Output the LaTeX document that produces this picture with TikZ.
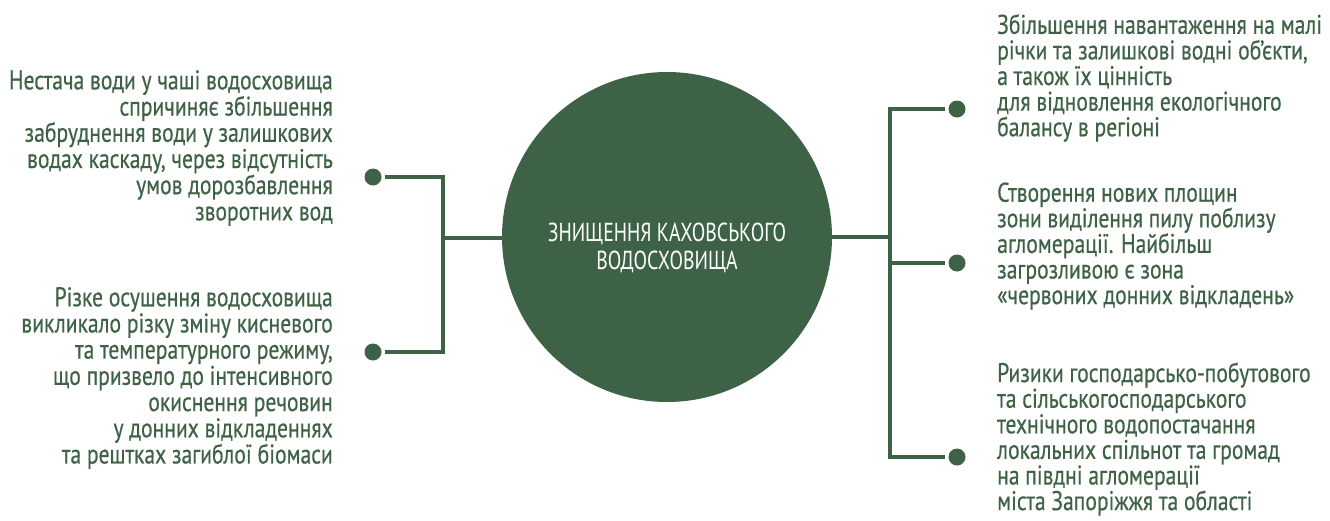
\documentclass[tikz,border=0pt]{standalone}
\usepackage{fontspec}
\setmainfont{PT Sans}[FakeStretch=0.8,FakeBold=0.5]
\newfontfamily\circfont{PT Sans}[FakeStretch=0.76]
\definecolor{dgreen}{HTML}{3E6245}
\begin{document}
\begin{tikzpicture}[x=1pt,y=-1pt,
  conn/.style={draw=dgreen,line width=4.5pt,line join=miter},
  dotnode/.style={circle,fill=dgreen,minimum size=17pt,inner sep=0pt},
  ltext/.style={align=right,anchor=east,text=dgreen,inner sep=0pt,font=\fontsize{27}{26.2}\selectfont},
  rtext/.style={align=left,anchor=west,text=dgreen,inner sep=0pt,font=\fontsize{27}{25.6}\selectfont}]
\useasboundingbox (0,0) rectangle (1330,520);
\node[circle,fill=dgreen,minimum size=330pt,inner sep=0pt] (c) at (667,237) {};
\node[text=white,align=center,inner sep=0pt,font=\circfont\fontsize{26}{28}\selectfont] (ct) at (667,248) {ЗНИЩЕННЯ КАХОВСЬКОГО\\ВОДОСХОВИЩА};
% left
\node[dotnode] (d1) at (373,177) {};
\node[dotnode] (d2) at (373,352) {};
\coordinate (jl) at (443,238);
\draw[conn] ([xshift=3pt]d1.east) -| (jl) |- ([xshift=3pt]d2.east);
\draw[conn] (c.west |- jl) -- (jl);
\node[ltext] (t1) at (333,148) {Нестача води у чаші водосховища\\спричиняє збільшення\\забруднення води у залишкових\\водах каскаду, через відсутність\\умов дорозбавлення\\зворотних вод};
\node[ltext] (t2) at (333,378) {Різке осушення водосховища\\викликало різку зміну кисневого\\та температурного режиму,\\що призвело до інтенсивного\\окиснення речовин\\у донних відкладеннях\\та рештках загиблої біомаси};
% right
\node[dotnode] (d3) at (957,109) {};
\node[dotnode] (d4) at (957,263) {};
\node[dotnode] (d5) at (957,457) {};
\coordinate (jr) at (890,237);
\draw[conn] ([xshift=-3pt]d3.west) -| (jr) |- ([xshift=-3pt]d5.west);
\draw[conn] (jr) |- ([xshift=-3pt]d4.west);
\draw[conn] (c.east |- jr) -- (jr);
\node[rtext] (t3) at (997,78) {Збільшення навантаження на малі\\річки та залишкові водні об\char"27 єкти,\\а також їх цінність\\для відновлення екологічного\\балансу в регіоні};
\node[rtext] (t4) at (997,246) {Створення нових площин\\зони виділення пилу поблизу\\агломерації. Найбільш\\загрозливою є зона\\«червоних донних відкладень»};
\node[rtext] (t5) at (997,439) {Ризики господарсько-побутового\\та сільськогосподарського\\технічного водопостачання\\локальних спільнот та громад\\на півдні агломерації\\міста Запоріжжя та області};
\end{tikzpicture}
\end{document}
